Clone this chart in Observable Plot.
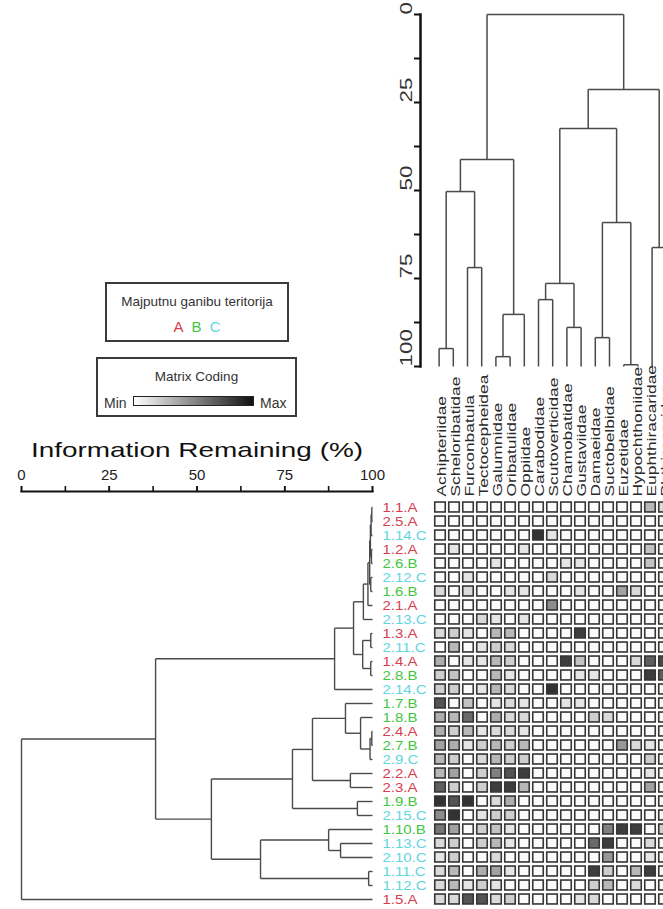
<!DOCTYPE html>
<html><head><meta charset="utf-8">
<script src="https://cdn.jsdelivr.net/npm/d3@7"></script>
<script src="https://cdn.jsdelivr.net/npm/@observablehq/plot@0.6"></script>
<style>
body{margin:0;background:#fff;font-family:"Liberation Sans",Arial,sans-serif;}
#wrap{position:relative;width:663px;height:909px;overflow:hidden;background:#fff;}
#wrap svg{position:absolute;left:0;top:0;max-width:none !important;background:transparent !important;overflow:visible;}
.box{position:absolute;border:2px solid #3a3a3a;box-sizing:border-box;background:#fff;color:#333;text-align:center;}
</style></head><body><div id="wrap"></div>
<script>
// ---------- data ----------
const columns = ["Achipteriidae","Scheloribatidae","Furconbatula","Tectocepheidea","Galumnidae","Oribatulidae","Oppiidae","Carabodidae","Scutoverticidae","Chamobatidae","Gustaviidae","Damaeidae","Suctobelbidae","Euzetidae","Hypochthoniidae","Euphthiracaridae","Phthiracaridae"];
const rows = ["1.1.A","2.5.A","1.14.C","1.2.A","2.6.B","2.12.C","1.6.B","2.1.A","2.13.C","1.3.A","2.11.C","1.4.A","2.8.B","2.14.C","1.7.B","1.8.B","2.4.A","2.7.B","2.9.C","2.2.A","2.3.A","1.9.B","2.15.C","1.10.B","1.13.C","2.10.C","1.11.C","1.12.C","1.5.A"];
const groupNames = ["A","B","C"];
const groupColors = ["#d6404f","#3fc63f","#5fd6de"];
// relative abundance (0 = min, 1 = max), rows x columns
const values = [
 [0,0,0,0,0,0,0,0,0,0,0,0,0,0,0,.3,.15],
 [0,0,0,0,0,0,0,0,0,0,0,0,0,0,0,0,0],
 [0,0,0,0,0,0,0,.9,.1,0,0,0,0,0,0,0,0],
 [0,.1,0,0,0,0,.1,0,0,0,0,0,0,0,0,.25,0],
 [0,0,0,0,.1,0,0,0,0,.1,.1,0,0,0,0,.25,0],
 [0,0,.1,0,0,0,0,0,.15,0,0,0,0,0,0,0,0],
 [.15,0,.15,0,0,.1,.1,0,0,0,.1,0,0,.4,.15,0,0],
 [0,0,0,0,0,0,0,0,.5,0,0,0,0,0,0,0,0],
 [0,0,0,.15,.1,0,.1,0,0,0,0,0,0,0,0,0,0],
 [.15,.2,.1,0,.3,.3,0,0,0,0,.85,0,0,0,0,0,0],
 [0,.3,0,.1,.2,.15,0,0,0,0,0,0,0,0,0,0,0],
 [.35,0,.1,.1,.3,.2,0,0,0,.85,.25,0,0,0,.15,.7,.8],
 [.2,.25,0,0,.3,.1,0,0,0,0,.1,.1,0,0,0,.85,.7],
 [.2,.2,0,.1,.3,.15,0,0,.9,0,0,0,0,0,0,0,0],
 [.75,0,.25,0,.1,.15,.1,0,0,.1,.1,0,0,0,0,0,0],
 [.35,.3,.65,0,.35,.15,.15,0,0,0,0,.2,.15,0,0,0,0],
 [.35,.2,.3,.1,.15,.15,.1,0,0,0,0,0,0,0,0,0,0],
 [.4,.35,.1,.2,.3,.2,.3,0,0,0,0,0,0,.45,.15,.1,0],
 [.3,.2,0,.15,.3,.2,.2,0,0,0,0,0,0,0,0,.2,0],
 [.3,.4,0,.2,.55,.75,.85,0,0,0,0,0,0,0,0,.1,0],
 [.7,.2,0,.2,.85,.85,.3,0,0,0,0,0,0,0,0,.4,0],
 [.9,.75,.9,0,.15,.35,0,0,0,0,0,0,0,0,0,0,0],
 [.5,.9,0,.1,.2,.2,0,0,0,0,0,0,0,0,0,0,0],
 [.6,.4,0,.2,.25,.1,0,0,0,0,0,0,.55,.85,.85,0,.2],
 [.15,.2,0,.2,.3,.1,0,0,0,0,0,.65,.85,0,0,.15,0],
 [.1,.2,0,0,.15,0,0,0,0,0,0,0,.45,0,0,.1,0],
 [.15,.3,0,.35,.4,.1,0,0,0,0,0,.85,.2,0,.3,.85,0],
 [.15,.3,.1,.2,.1,0,0,0,0,0,0,.2,.3,0,.15,0,0],
 [.15,.15,.75,.75,.15,.2,0,0,0,0,.1,.15,0,0,0,0,0]
];
// cluster merges (hclust style): negative = leaf (1-based), positive = earlier merge; third = information remaining (%)
const colMerges = [
 [-1,-2,94.9],[-3,-4,71.9],[1,2,50.3],[-5,-6,97.2],[4,-7,85.2],[3,5,41.2],
 [-8,-9,81.0],[-10,-11,88.9],[7,8,76.4],[-12,-13,91.8],[-14,-15,99.5],[10,11,59.1],
 [9,12,32.4],[-16,-17,66.2],[13,14,21.3],[6,15,0]
];
const rowMerges = [
 [-1,-2,99.8],[1,-3,99.6],[-4,-5,99.7],[2,3,99.4],[-6,-7,99.5],[4,5,99.2],[6,-8,98.7],
 [7,-9,97.4],[-10,-11,99.5],[-12,-13,99.5],[9,10,97.2],[8,11,94.6],[12,-14,89.2],
 [-17,-18,99.8],[14,-19,99.3],[-16,15,96.6],[-15,16,92.3],[-20,-21,93.7],[17,18,82.9],
 [-22,-23,95.7],[19,20,77.2],[-25,-26,90.9],[-24,22,87.5],[-27,-28,98.9],[23,24,68.1],
 [21,25,54.1],[13,26,38.2],[27,-29,0]
];
const axisLabels = [0,25,50,75,100];
const axisTicks = [0,12.5,25,37.5,50,62.5,75,87.5,100];

// ---------- helpers ----------
function dendroSegments(merges) {
  const pos = [], hgt = [];
  const P = k => k < 0 ? -k - 1 : pos[k - 1];
  const H = k => k < 0 ? 100 : hgt[k - 1];
  const segs = [];
  merges.forEach(([a, b, h], i) => {
    const pa = P(a), pb = P(b);
    pos[i] = (pa + pb) / 2; hgt[i] = h;
    segs.push({p1: pa, p2: pb, h1: h, h2: h});
    segs.push({p1: pa, p2: pa, h1: h, h2: H(a)});
    segs.push({p1: pb, p2: pb, h1: h, h2: H(b)});
  });
  return segs;
}
// widen glyphs along the reading direction (the reference uses a broad font)
function stretch(nodes, sx) {
  nodes.forEach(n => {
    const t = n.getAttribute("transform") || "";
    const xa = n.getAttribute("x");
    const x = xa && /^-?[\d.]+$/.test(xa) ? +xa : 0;
    n.setAttribute("transform", `${t} translate(${x},0) scale(${sx},1) translate(${-x},0)`);
  });
}
const font = "Liberation Sans, Arial, sans-serif";
const wrap = document.getElementById("wrap");

// ---------- heatmap ----------
const cells = [];
rows.forEach((r, i) => columns.forEach((c, j) => cells.push({row: r, col: c, v: values[i][j]})));
const plotH = Plot.plot({
  width: 680, height: 909,
  marginLeft: 431.1, marginRight: 7.5, marginTop: 500, marginBottom: 3,
  style: {fontFamily: font},
  x: {domain: columns, range: [431.1, 672.5], padding: 0, axis: null},
  y: {domain: rows, padding: 0, axis: null},
  color: {type: "linear", domain: [0, 1], range: ["#fbfbfb", "#1c1c1c"]},
  marks: [
    Plot.cell(cells, {x: "col", y: "row", fill: "v", stroke: "#363636", strokeWidth: 1.6,
      insetLeft: 1.75, insetRight: 1.75, insetTop: 2.05, insetBottom: 2.05}),
    Plot.text(columns, {x: d => d, text: d => d, frameAnchor: "top", dy: -4, dx: -3,
      rotate: -90, textAnchor: "start", fontSize: 12, fill: "#2a2a2a"})
  ]
});
stretch(plotH.querySelectorAll("g[aria-label=text] text"), 1.45);
wrap.appendChild(plotH);

// ---------- top (column) dendrogram ----------
const plotT = Plot.plot({
  width: 700, height: 380,
  marginLeft: 420, marginRight: 34, marginTop: 14, marginBottom: 14,
  style: {fontFamily: font},
  x: {domain: [0, columns.length - 1], range: [438.6, 665.8], axis: null},
  y: {domain: [0, 100], range: [14, 366], axis: null},
  marks: [
    Plot.link(dendroSegments(colMerges), {x1: "p1", x2: "p2", y1: "h1", y2: "h2", stroke: "#4a4a4a", strokeWidth: 1.5}),
    Plot.frame({anchor: "left", stroke: "#111", strokeWidth: 2.5}),
    Plot.axisY({anchor: "left", ticks: axisTicks, tickSize: 6, tickFormat: () => "", strokeWidth: 2, stroke: "#111", label: null}),
    Plot.text(axisLabels, {y: d => d, text: d => String(d), frameAnchor: "left", dx: -14, rotate: -90, fontSize: 16, fill: "#333"})
  ]
});
stretch(plotT.querySelectorAll("g[aria-label=text] text"), 1.4);
wrap.appendChild(plotT);

// ---------- left (row) dendrogram ----------
const rowData = rows.map((r, i) => ({label: r, i, g: groupNames.indexOf(r.slice(-1))}));
const plotL = Plot.plot({
  width: 430, height: 909,
  marginLeft: 21, marginRight: 58, marginTop: 491, marginBottom: 10,
  style: {fontFamily: font},
  x: {domain: [0, 100]},
  y: {domain: [0, rows.length - 1], range: [507, 899], axis: null},
  color: {type: "identity"},
  marks: [
    Plot.frame({anchor: "top", stroke: "#111", strokeWidth: 2}),
    Plot.axisX({anchor: "top", ticks: axisTicks, tickSize: 6, tickFormat: () => "", strokeWidth: 1.6, stroke: "#111", label: null}),
    Plot.axisX({anchor: "top", ticks: axisLabels, tickSize: 6, tickPadding: 6, fontSize: 15, stroke: "#111", strokeWidth: 1.6, fill: "#222", label: null}),
    Plot.link(dendroSegments(rowMerges), {x1: "h1", x2: "h2", y1: "p1", y2: "p2", stroke: "#4a4a4a", strokeWidth: 1.4}),
    Plot.text(rowData, {y: "i", text: "label", frameAnchor: "right", dx: 10, textAnchor: "start",
      fontSize: 12.5, fill: d => groupColors[d.g]})
  ]
});
stretch(plotL.querySelectorAll("g[aria-label=text] text"), 1.2);
wrap.appendChild(plotL);

// ---------- title and legends ----------
const title = document.createElement("div");
title.textContent = "Information Remaining (%)";
Object.assign(title.style, {position: "absolute", left: "0px", top: "436px", width: "394px", textAlign: "center",
  fontSize: "21px", lineHeight: "28px", color: "#111", transform: "scaleX(1.33)", transformOrigin: "197px 0", whiteSpace: "nowrap"});
wrap.appendChild(title);

const box1 = document.createElement("div");
box1.className = "box";
Object.assign(box1.style, {left: "105px", top: "282px", width: "184px", height: "60px"});
box1.innerHTML = `<div style="font-size:13.5px;margin-top:10px;line-height:16px">Majputnu ganibu teritorija</div>
<div style="font-size:15px;margin-top:8px;line-height:18px">${groupNames.map((g, i) => `<span style="color:${groupColors[i]};margin:0 2px">${g}</span>`).join(" ")}</div>`;
wrap.appendChild(box1);

const box2 = document.createElement("div");
box2.className = "box";
Object.assign(box2.style, {left: "96px", top: "357px", width: "201px", height: "60px"});
box2.innerHTML = `<div style="font-size:13.5px;margin-top:10px;line-height:16px">Matrix Coding</div>
<div style="position:absolute;left:6px;top:36px;font-size:14px;line-height:16px">Min</div>
<div style="position:absolute;left:35px;top:37px;width:121px;height:10px;border:1.5px solid #222;box-sizing:border-box;background:linear-gradient(to right,#ffffff,#111111)"></div>
<div style="position:absolute;left:162px;top:36px;font-size:14px;line-height:16px">Max</div>`;
wrap.appendChild(box2);
</script></body></html>
